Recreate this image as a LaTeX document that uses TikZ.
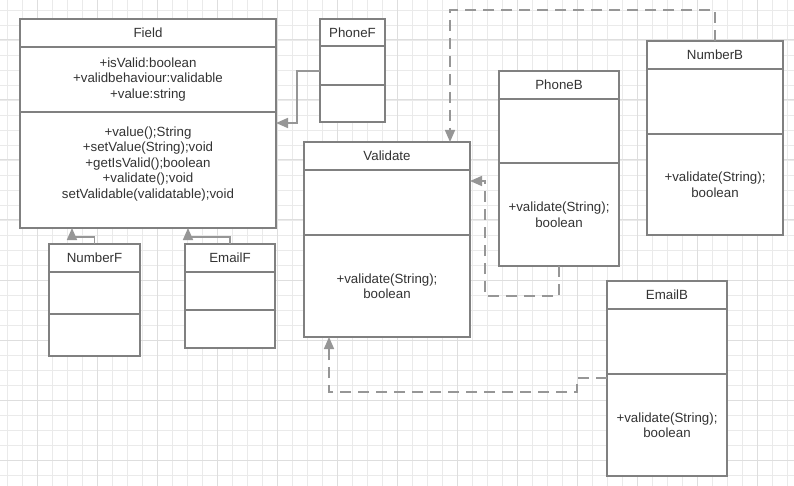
\documentclass[tikz,border=0pt]{standalone}
\usepackage{xcolor}
\usepackage{fontspec}
\setmainfont{Liberation Sans}
\usepackage{tikz}
\usetikzlibrary{arrows.meta,positioning}

\definecolor{boxgray}{RGB}{128,128,128}
\definecolor{linkgray}{RGB}{150,150,150}
\definecolor{txtgray}{RGB}{51,51,51}
\definecolor{gridminor}{RGB}{234,234,234}
\definecolor{gridmajor}{RGB}{222,222,222}
\newcommand{\umlfont}{\fontsize{13.3}{15.5}\selectfont}

\begin{document}
\begin{tikzpicture}[x=1pt, y=-1pt, every node/.style={font=\umlfont}]
    \tikzstyle{head} = [rectangle, draw=boxgray, line width=1.8pt, fill=white,
        inner sep=0pt, outer sep=0pt, align=center, text=txtgray, minimum height=28pt]
    \tikzstyle{gen} = [draw=linkgray, line width=1.6pt, -{Triangle[length=12pt,width=10pt]}]
    \tikzstyle{real} = [gen, dash pattern=on 11pt off 7pt]

    \useasboundingbox (0,0) rectangle (794,486);
    \fill [white] (0,0) rectangle (794,486);
    \draw [gridminor, line width=0.9pt, step=15pt, shift={(7,10)}] (-7,476) grid (787,-10);
    \draw [gridmajor, line width=1pt, step=60pt, shift={(37,40)}] (-37,446) grid (757,-40);

    \node (field) [head, minimum width=256pt, anchor=north west] at (20,19) {Field};
    \node (fieldA) [head, minimum width=256pt, minimum height=65pt, below=0pt of field]
        {+isValid:boolean\\+validbehaviour:validable\\+value:string};
    \node (fieldM) [head, minimum width=256pt, minimum height=116pt, below=0pt of fieldA]
        {+value();String\\+setValue(String);void\\+getIsValid();boolean\\+validate();void\\setValidable(validatable);void\\ \mbox{}};

    \node (phoneF) [head, minimum width=65pt, minimum height=27pt, anchor=north west] at (320,19) {PhoneF};
    \node (phoneFA) [head, minimum width=65pt, minimum height=39pt, below=0pt of phoneF] {};
    \node (phoneFM) [head, minimum width=65pt, minimum height=37pt, below=0pt of phoneFA] {};

    \node (numberF) [head, minimum width=91pt, anchor=north west] at (49,244) {NumberF};
    \node (numberFA) [head, minimum width=91pt, minimum height=42pt, below=0pt of numberF] {};
    \node (numberFM) [head, minimum width=91pt, minimum height=42pt, below=0pt of numberFA] {};

    \node (emailF) [head, minimum width=90pt, anchor=north west] at (185,244) {EmailF};
    \node (emailFA) [head, minimum width=90pt, minimum height=38pt, below=0pt of emailF] {};
    \node (emailFM) [head, minimum width=90pt, minimum height=38pt, below=0pt of emailFA] {};

    \node (validate) [head, minimum width=166pt, anchor=north west] at (304,142) {Validate};
    \node (validateA) [head, minimum width=166pt, minimum height=65pt, below=0pt of validate] {};
    \node (validateM) [head, minimum width=166pt, minimum height=102pt, below=0pt of validateA]
        {+validate(String);\\boolean};

    \node (phoneB) [head, minimum width=120pt, anchor=north west] at (499,71) {PhoneB};
    \node (phoneBA) [head, minimum width=120pt, minimum height=64pt, below=0pt of phoneB] {};
    \node (phoneBM) [head, minimum width=120pt, minimum height=103pt, below=0pt of phoneBA]
        {+validate(String);\\boolean};

    \node (numberB) [head, minimum width=136pt, anchor=north west] at (647,41) {NumberB};
    \node (numberBA) [head, minimum width=136pt, minimum height=65pt, below=0pt of numberB] {};
    \node (numberBM) [head, minimum width=136pt, minimum height=101pt, below=0pt of numberBA]
        {+validate(String);\\boolean};

    \node (emailB) [head, minimum width=120pt, anchor=north west] at (607,281) {EmailB};
    \node (emailBA) [head, minimum width=120pt, minimum height=65pt, below=0pt of emailB] {};
    \node (emailBM) [head, minimum width=120pt, minimum height=102pt, below=0pt of emailBA]
        {+validate(String);\\boolean};

    \coordinate (pfbend) at (297,71);
    \coordinate (pfelbow) at (297,123);
    \coordinate (nfbend) at (72,237);
    \coordinate (efbend) at (188,237);
    \coordinate (nbtop) at (450,10);
    \coordinate (pbbend) at (485,296);
    \coordinate (pbturn) at (485,181);
    \coordinate (ebbend) at (577,378);
    \coordinate (ebbase) at (329,392);

    \draw [gen] (pfbend -| phoneFA.west) -- (pfbend) -- (pfelbow) -- (pfelbow -| fieldM.east);
    \draw [gen] (numberF.north) |- (nfbend) -- (nfbend |- fieldM.south);
    \draw [gen] (emailF.north) |- (efbend) -- (efbend |- fieldM.south);
    \draw [real] (numberB.north) |- (nbtop) -- (nbtop |- validate.north);
    \draw [real] (phoneBM.south) |- (pbbend) -- (pbturn) -- (pbturn -| validateA.east);
    \draw [real] (ebbend -| emailBM.west) -- (ebbend) |- (ebbase) -- (ebbase |- validateM.south);
\end{tikzpicture}
\end{document}
